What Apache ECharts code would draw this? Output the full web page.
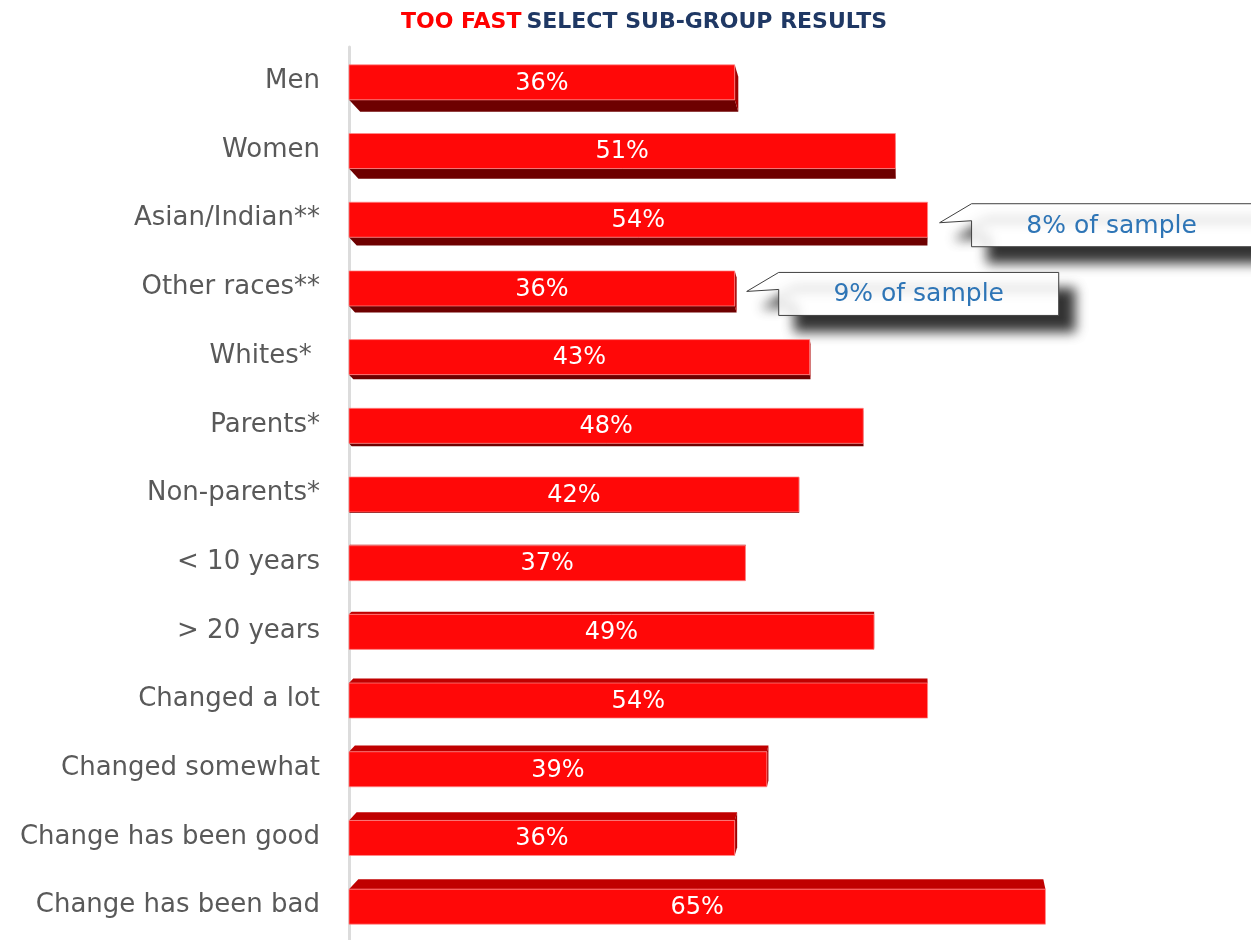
<!DOCTYPE html>
<html>
<head>
<meta charset="utf-8">
<script src="https://cdn.jsdelivr.net/npm/echarts@6/dist/echarts.min.js"></script>
<style>html,body{margin:0;padding:0;background:#fff;}#c{width:1251px;height:940px;}</style>
</head>
<body>
<div id="c"></div>
<script>
const categories = ['Men', 'Women', 'Asian/Indian**', 'Other races**', 'Whites* ', 'Parents*', 'Non-parents*', '< 10 years', '> 20 years', 'Changed a lot', 'Changed somewhat', 'Change has been good', 'Change has been bad'];
const values = [36, 51, 54, 36, 43, 48, 42, 37, 49, 54, 39, 36, 65];
const notes = ['', '', '8% of sample', '9% of sample', '', '', '', '', '', '', '', '', ''];
const titleRed = 'TOO FAST';
const titleNavy = 'SELECT SUB-GROUP RESULTS';

const FONT = 'DejaVu Sans';
const chart = echarts.init(document.getElementById('c'), null, { renderer: 'canvas' });

function renderItem(params, api) {
  const i = api.value(1);
  const v = api.value(0);
  const p0 = api.coord([0, i]);
  const p1 = api.coord([v, i]);
  const band = api.size([0, 1])[1];
  const h = band * 0.51;
  const x0 = p0[0], x1 = p1[0], yc = p0[1] + 1;
  const yt = yc - h / 2, yb = yc + h / 2;
  const n = categories.length;
  const dy = 12 - 22 * i / (n - 1);
  const vx = api.coord([53, i])[0];
  const a = Math.abs(dy) * 0.00164;
  const dx0 = a * (vx - x0), dx1 = a * (vx - x1);
  const children = [];
  if (dy > 0) {
    children.push({ type: 'polygon', shape: { points: [[x0, yb], [x1, yb], [x1 + dx1, yb + dy], [x0 + dx0, yb + dy]] }, style: { fill: '#6e0000' } });
  } else {
    children.push({ type: 'polygon', shape: { points: [[x0, yt], [x1, yt], [x1 + dx1, yt + dy], [x0 + dx0, yt + dy]] }, style: { fill: '#c00000' } });
  }
  if (dx1 > 0) {
    children.push({ type: 'polygon', shape: { points: [[x1, yt], [x1, yb], [x1 + dx1, yb + dy], [x1 + dx1, yt + dy]] }, style: { fill: '#a00000' } });
  }
  children.push({ type: 'rect', shape: { x: x0, y: yt, width: x1 - x0, height: h }, style: { fill: '#ff0808', stroke: 'rgba(255,140,140,0.7)', lineWidth: 1 } });
  children.push({ type: 'text', style: { text: v + '%', x: (x0 + x1) / 2, y: yc + 1, align: 'center', verticalAlign: 'middle', fill: '#ffffff', font: '24px "' + FONT + '"' } });
  const note = notes[i];
  if (note) {
    const tip = [x1 + 12, yc + 3];
    const bx = x1 + 44, by = yc - 16, w = 280, bh = 43;
    children.push({
      type: 'polygon',
      shape: { points: [tip, [bx, by], [bx + w, by], [bx + w, by + bh], [bx, by + bh], [bx, by + 17], tip] },
      style: { fill: '#ffffff', stroke: '#404040', lineWidth: 1, shadowBlur: 12, shadowOffsetX: 16, shadowOffsetY: 16, shadowColor: 'rgba(0,0,0,0.8)' }
    });
    children.push({ type: 'text', style: { text: note, x: bx + w / 2, y: by + bh / 2 + 1, align: 'center', verticalAlign: 'middle', fill: '#2e75b6', font: '25px "' + FONT + '"' } });
  }
  return { type: 'group', children };
}

chart.setOption({
  animation: false,
  backgroundColor: '#ffffff',
  title: {
    text: '{r|' + titleRed + '} {b|' + titleNavy + '}',
    left: 396, top: 6,
    textStyle: { rich: {
      r: { color: '#ff0000', fontSize: 22, fontWeight: 'bold', fontFamily: FONT },
      b: { color: '#1f3864', fontSize: 22, fontWeight: 'bold', fontFamily: FONT }
    } }
  },
  grid: { left: 349, right: 152, top: 47, bottom: 0 },
  xAxis: { type: 'value', min: 0, max: 70, show: false },
  yAxis: {
    type: 'category', inverse: true, data: categories, offset: 6,
    axisLine: { show: true, lineStyle: { color: '#dcdcdc', width: 3 } },
    axisTick: { show: false },
    axisLabel: { margin: 23, fontSize: 26, color: '#595959', fontFamily: FONT }
  },
  series: [{
    type: 'custom', clip: false,
    renderItem,
    encode: { x: 0, y: 1 },
    data: values.map((v, i) => [v, i])
  }]
});
</script>
</body>
</html>
